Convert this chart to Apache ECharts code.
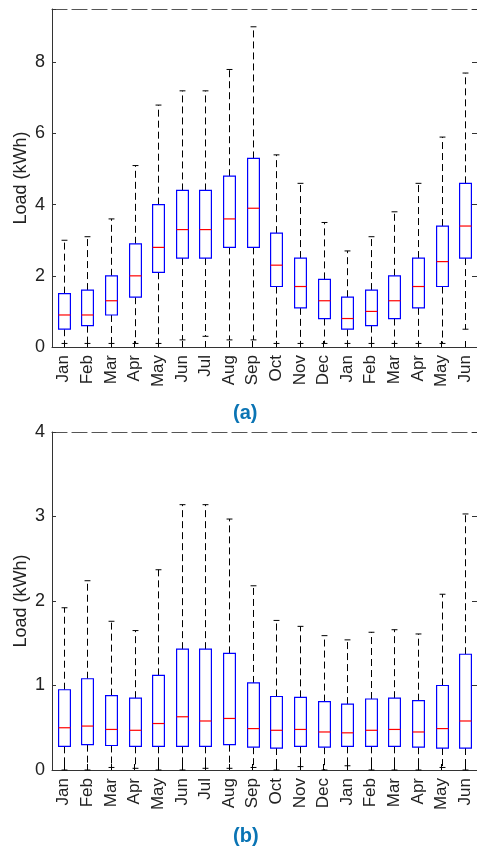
<!DOCTYPE html>
<html>
<head>
<meta charset="utf-8">
<script src="https://cdn.jsdelivr.net/npm/echarts@6/dist/echarts.min.js"></script>
<style>
html,body{margin:0;padding:0;background:#fff;}
#c{width:477px;height:851px;}
</style>
</head>
<body>
<div id="c"></div>
<script>
const months = ['Jan','Feb','Mar','Apr','May','Jun','Jul','Aug','Sep','Oct','Nov','Dec','Jan','Feb','Mar','Apr','May','Jun'];

// Panel (a)
const aLow  = [0.1,0.1,0.1,0.1,0.1,0.2,0.3,0.2,0.2,0.1,0.1,0.1,0.1,0.1,0.1,0.1,0.1,0.5];
const aQ1   = [0.5,0.6,0.9,1.4,2.1,2.5,2.5,2.8,2.8,1.7,1.1,0.8,0.5,0.6,0.8,1.1,1.7,2.5];
const aMed  = [0.9,0.9,1.3,2.0,2.8,3.3,3.3,3.6,3.9,2.3,1.7,1.3,0.8,1.0,1.3,1.7,2.4,3.4];
const aQ3   = [1.5,1.6,2.0,2.9,4.0,4.4,4.4,4.8,5.3,3.2,2.5,1.9,1.4,1.6,2.0,2.5,3.4,4.6];
const aHigh = [3.0,3.1,3.6,5.1,6.8,7.2,7.2,7.8,9.0,5.4,4.6,3.5,2.7,3.1,3.8,4.6,5.9,7.7];

// Panel (b)
const bLow  = [0,0,0.03,0.02,0,0,0.02,0.02,0.03,0,0.04,0,0.05,0,0,0,0.03,0];
const bQ1   = [0.28,0.30,0.29,0.28,0.28,0.28,0.28,0.30,0.27,0.26,0.28,0.27,0.28,0.28,0.28,0.27,0.26,0.26];
const bMed  = [0.50,0.52,0.48,0.47,0.55,0.63,0.58,0.61,0.49,0.47,0.48,0.45,0.44,0.47,0.48,0.45,0.49,0.58];
const bQ3   = [0.95,1.08,0.88,0.85,1.12,1.43,1.43,1.38,1.03,0.87,0.86,0.81,0.78,0.84,0.85,0.82,1.00,1.37];
const bHigh = [1.92,2.24,1.76,1.65,2.37,3.14,3.14,2.97,2.18,1.77,1.70,1.59,1.54,1.63,1.66,1.61,2.08,3.03];

const yTicksA = [0,2,4,6,8];
const yTicksB = [0,1,2,3,4];

function build(low,q1,med,q3,high){
  return months.map((m,i)=>[i,low[i],q1[i],med[i],q3[i],high[i]]);
}

function renderBox(params, api){
  const idx = api.value(0);
  const pLow = api.coord([idx, api.value(1)]);
  const pQ1 = api.coord([idx, api.value(2)]);
  const pMed = api.coord([idx, api.value(3)]);
  const pQ3 = api.coord([idx, api.value(4)]);
  const pHigh = api.coord([idx, api.value(5)]);
  const band = api.size([1,0])[0];
  const bw = band*0.5;
  const cw = band*0.25;
  const x = Math.round(pMed[0]) + 0.5;
  const dash = {stroke:'#000', lineWidth:1, lineDash:[7,4]};
  const solid = {stroke:'#000', lineWidth:1};
  return {
    type:'group',
    children:[
      {type:'line', shape:{x1:x,y1:pQ3[1],x2:x,y2:pHigh[1]}, style:dash},
      {type:'line', shape:{x1:x,y1:pQ1[1],x2:x,y2:pLow[1]}, style:dash},
      {type:'line', shape:{x1:x-cw/2,y1:pHigh[1],x2:x+cw/2,y2:pHigh[1]}, style:solid},
      {type:'line', shape:{x1:x-cw/2,y1:pLow[1],x2:x+cw/2,y2:pLow[1]}, style:solid},
      {type:'rect', shape:{x:x-bw/2,y:pQ3[1],width:bw,height:pQ1[1]-pQ3[1]}, style:{fill:'#fff',stroke:'#0000ff',lineWidth:1.2}},
      {type:'line', shape:{x1:x-bw/2,y1:pMed[1],x2:x+bw/2,y2:pMed[1]}, style:{stroke:'#ff0000',lineWidth:1.2}}
    ]
  };
}

const axisColor = '#333';
function xAxisMain(gi){
  return {
    type:'category', gridIndex:gi, data:months, boundaryGap:true,
    axisLine:{show:true,onZero:false,lineStyle:{color:axisColor,width:1}},
    axisTick:{show:true,inside:true,alignWithLabel:true,length:6,lineStyle:{color:'#000'}},
    axisLabel:{rotate:90,fontSize:17,color:'#222',margin:8,fontFamily:'Liberation Sans',interval:0},
    splitLine:{show:false}
  };
}
function xAxisTop(gi){
  return {
    type:'category', gridIndex:gi, data:months, position:'top', boundaryGap:true,
    axisLine:{show:true,onZero:false,lineStyle:{color:'#555',width:1.2,type:[15,5]}},
    axisTick:{show:false}, axisLabel:{show:false}, splitLine:{show:false}
  };
}
function yAxisMain(gi,max,interval){
  return {
    type:'value', gridIndex:gi, min:0, max:max, interval:interval,
    name:'Load (kWh)', nameLocation:'middle', nameGap:22, nameMoveOverlap:false,
    nameTextStyle:{fontSize:18,color:'#222',fontFamily:'Liberation Sans'},
    axisLine:{show:true,onZero:false,lineStyle:{color:axisColor,width:1}},
    axisTick:{show:true,inside:true,length:4,lineStyle:{color:axisColor}},
    axisLabel:{fontSize:18,color:'#222',margin:7,fontFamily:'Liberation Sans',
      formatter:function(v){return (v%interval===0)?String(v):'';}},
    splitLine:{show:false}
  };
}
function yAxisRight(gi,max,interval){
  return {
    type:'value', gridIndex:gi, min:0, max:max, interval:interval, position:'right',
    axisLine:{show:true,onZero:false,lineStyle:{color:axisColor,width:1}},
    axisTick:{show:true,inside:true,length:5,lineStyle:{color:axisColor}},
    axisLabel:{show:false}, splitLine:{show:false}
  };
}

const chart = echarts.init(document.getElementById('c'), null, {renderer:'canvas'});
chart.setOption({
  animation:false,
  backgroundColor:'#fff',
  title:[
    {text:'(a)', left:233, top:403, padding:0, textStyle:{fontSize:20,fontWeight:'bold',color:'#0a74b4',fontFamily:'Liberation Sans'}},
    {text:'(b)', left:233, top:826, padding:0, textStyle:{fontSize:20,fontWeight:'bold',color:'#0a74b4',fontFamily:'Liberation Sans'}}
  ],
  grid:[
    {left:52, right:-3, top:9, height:338},
    {left:52, right:-3, top:432, height:338}
  ],
  xAxis:[xAxisMain(0), xAxisTop(0), xAxisMain(1), xAxisTop(1)],
  yAxis:[yAxisMain(0,9.5,2), yAxisRight(0,9.5,2), yAxisMain(1,4,1), yAxisRight(1,4,1)],
  series:[
    {type:'custom', xAxisIndex:0, yAxisIndex:0, renderItem:renderBox, encode:{x:0,y:[1,2,3,4,5]}, data:build(aLow,aQ1,aMed,aQ3,aHigh), clip:false},
    {type:'custom', xAxisIndex:2, yAxisIndex:2, renderItem:renderBox, encode:{x:0,y:[1,2,3,4,5]}, data:build(bLow,bQ1,bMed,bQ3,bHigh), clip:false}
  ]
});
</script>
</body>
</html>
